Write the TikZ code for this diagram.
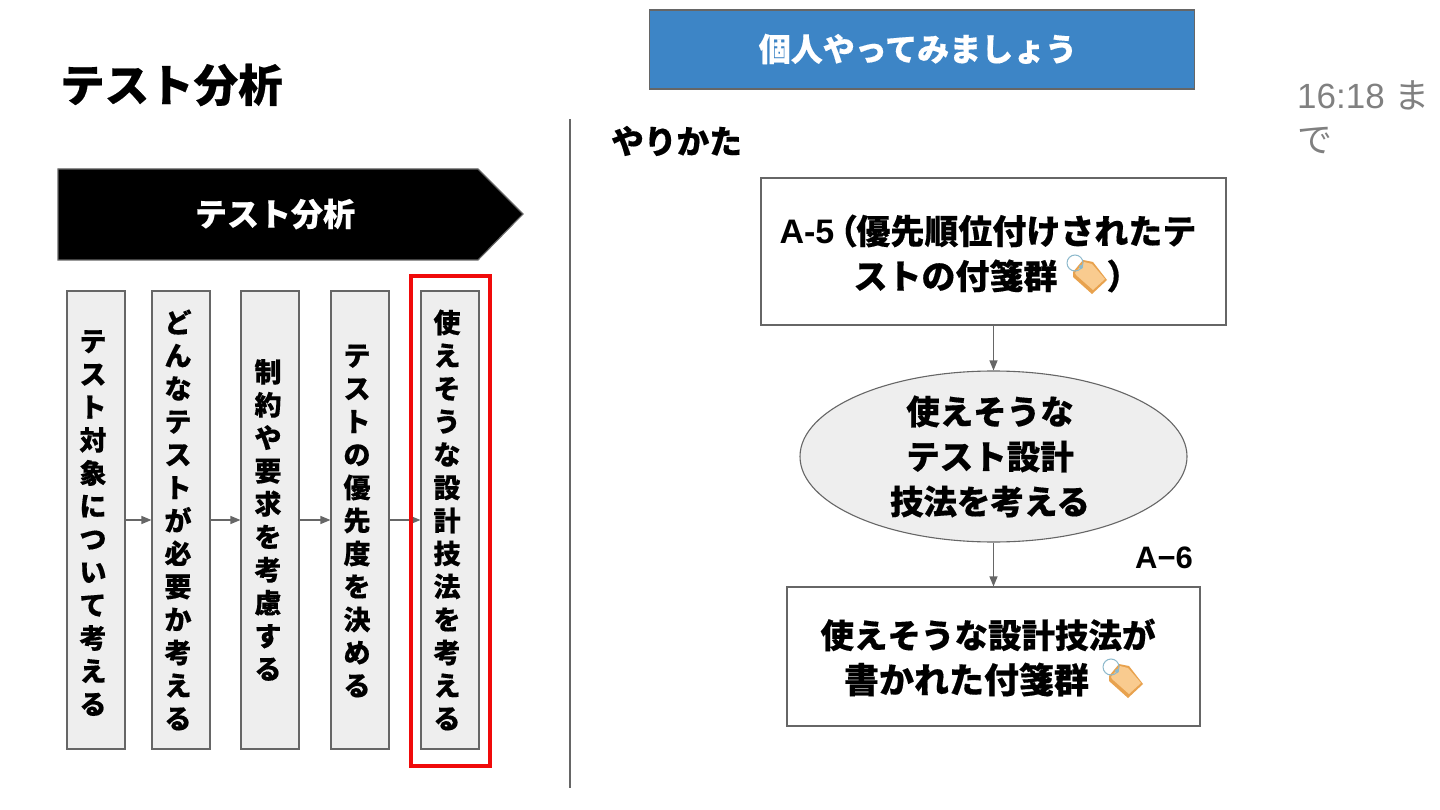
\documentclass[tikz,border=0pt]{standalone}
\usepackage{fontspec}
\setmainfont{Liberation Sans}
\newfontfamily\cjk{Noto Sans CJK JP}[BoldFeatures={FakeBold=0.4}]
\usetikzlibrary{arrows.meta, positioning, shapes.geometric}
\definecolor{edgegray}{HTML}{666666}
\definecolor{boxfill}{HTML}{EEEEEE}
\definecolor{bannerblue}{HTML}{3D85C6}
\definecolor{tagbody}{HTML}{F9CB8F}
\definecolor{tagedge}{HTML}{E8A24E}
\definecolor{tagring}{HTML}{8DB9CC}

\tikzset{
  stepbox/.style={rectangle, draw=edgegray, line width=1.1pt, fill=boxfill, minimum width=58pt, minimum height=458pt, inner sep=0pt},
  stepchars/.style={align=center, inner sep=0pt, font=\cjk\bfseries\fontsize{27}{33}\selectfont},
  flowbox/.style={rectangle, draw=edgegray, line width=1.1pt, fill=white, inner sep=0pt},
  flowtext/.style={align=center, inner sep=0pt, font=\cjk\bfseries\fontsize{33.5}{45}\selectfont},
  link/.style={-{Stealth[length=10pt,width=8pt,inset=0pt]}, draw=edgegray, line width=1.1pt},
  tagicon/.pic={
    \fill[tagedge] (-2,14) -- (-2,9) -- (8,-3) -- (18,-1) -- (32,17) -- (17,31) -- cycle;
    \fill[tagbody] (0,10) -- (9,-1) -- (17,1) -- (30,16) -- (18,27) -- (1,12) -- cycle;
    \draw[tagring, line width=1pt] (0,0) circle (8);
    \fill[tagring] (6,4) circle (2);
  }
}

\begin{document}
\begin{tikzpicture}[x=1pt, y=-1pt]
\useasboundingbox (0,0) rectangle (1440,810);

% left column
\node[anchor=west, inner sep=0pt, font=\cjk\bfseries\fontsize{44.5}{50}\selectfont] (title) at (60,85) {テスト分析};
\draw[draw=edgegray, line width=1.1pt, fill=black] (58,169) -- (478,169) -- (523,214) -- (478,260) -- (58,260) -- cycle;
\node[text=white, inner sep=0pt, font=\cjk\bfseries\fontsize{32}{36}\selectfont] (phase) at (275,214) {テスト分析};

\node[stepbox] at (96,520) (s1) {};
\node[stepbox] at (181,520) (s2) {};
\node[stepbox] at (270,520) (s3) {};
\node[stepbox] at (360,520) (s4) {};
\node[stepbox] at (450,520) (s5) {};
\node[stepchars] at (93,523) (t1) {テ\\ス\\ト\\対\\象\\に\\つ\\い\\て\\考\\え\\る};
\node[stepchars] at (178,520) (t2) {ど\\ん\\な\\テ\\ス\\ト\\が\\必\\要\\か\\考\\え\\る};
\node[stepchars] at (268,520) (t3) {制\\約\\や\\要\\求\\を\\考\\慮\\す\\る};
\node[stepchars] at (357,521) (t4) {テ\\ス\\ト\\の\\優\\先\\度\\を\\決\\め\\る};
\node[stepchars] at (447,520) (t5) {使\\え\\そ\\う\\な\\設\\計\\技\\法\\を\\考\\え\\る};
\draw[link] (s1) -- (s2);
\draw[link] (s2) -- (s3);
\draw[link] (s3) -- (s4);
\draw[link] (s4) -- (s5);
\node[draw={rgb,255:red,240;green,10;blue,10}, line width=4pt, minimum width=79.5pt, minimum height=490pt, inner sep=0pt] at (450.7,521) (current) {};

\coordinate (rulefrom) at (570,119);
\coordinate (ruleto) at (570,788);
\draw[draw=edgegray, line width=1.1pt] (rulefrom) -- (ruleto);

% right column
\node[rectangle, draw=edgegray, line width=1.1pt, fill=bannerblue, minimum width=544.5pt, minimum height=79pt, inner sep=0pt] at (921.8,49.5) (banner) {};
\node[text=white, inner sep=0pt, font=\cjk\bfseries\fontsize{32}{36}\selectfont] at (918,49) (bannertext) {個人やってみましょう};
\node[anchor=west, inner sep=0pt, font=\cjk\bfseries\fontsize{32.7}{36}\selectfont] at (611,141) (howto) {やりかた};
\node[anchor=north west, align=left, inner sep=0pt, text={rgb,255:red,128;green,128;blue,128}, font=\fontsize{35}{44}\selectfont] at (1297,81) (timer) {16:18 {\cjk ま}\\{\cjk で}};

\node[flowbox, minimum width=465pt, minimum height=147pt] at (993.5,251.5) (src) {};
\node[flowtext, font=\cjk\bfseries\fontsize{34}{45}\selectfont] at (988,253.5) (srctext) {{\fontspec{Liberation Sans}\bfseries A-5}\kern5pt{\addfontfeature{RawFeature=+palt}（}優先順位付けされたテ\\\hspace*{18pt}ストの付箋群\hspace{49pt}）};
\pic at (1075,263) {tagicon};

\node[ellipse, draw=edgegray, line width=1.1pt, fill=boxfill, minimum width=387pt, minimum height=171pt, inner sep=0pt] at (993.5,456.5) (task) {};
\node[flowtext] at (990,456.5) (tasktext) {使えそうな\\テスト設計\\技法を考える};

\node[flowbox, minimum width=413pt, minimum height=139pt] at (993.5,656.5) (dst) {};
\node[flowtext] at (988,657.5) (dsttext) {使えそうな設計技法が\\{\fontsize{35}{45}\selectfont 書かれた付箋群}\hspace*{43pt}};
\pic at (1111,667) {tagicon};
\node[anchor=west, inner sep=0pt, font=\bfseries\fontsize{31}{34}\selectfont] at (1135,558) (output) {A−6};

\draw[link] (src) -- (task);
\draw[link] (task) -- (dst);
\end{tikzpicture}
\end{document}
